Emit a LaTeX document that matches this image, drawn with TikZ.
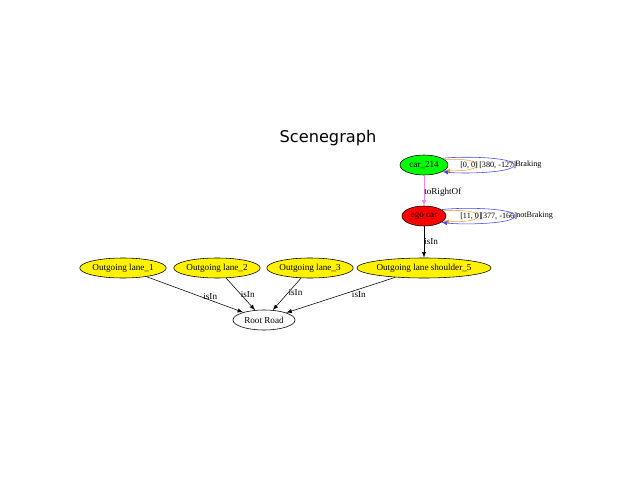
\documentclass[tikz,border=0pt]{standalone}
\usepackage{fontspec}
\setmainfont{Liberation Serif}
\newfontfamily\titlefont{DejaVu Sans}
\usetikzlibrary{shapes.geometric}

\definecolor{loopblue}{RGB}{70,70,240}
\definecolor{looporange}{RGB}{235,165,60}
\definecolor{relviolet}{RGB}{238,130,238}

\tikzset{
    obj/.style={ellipse, draw, inner sep=0pt, minimum height=0.5cm, font=\fontsize{6.5}{7}\selectfont},
    lane/.style={obj, fill=yellow, minimum width=2.075cm},
    rel/.style={-latex, thin},
    lbl/.style={font=\fontsize{6.5}{7}\selectfont, inner sep=0pt},
    looplbl/.style={font=\fontsize{5.8}{6}\selectfont, inner sep=0pt, anchor=west}
}

\begin{document}
\begin{tikzpicture}[x=0.025cm, y=-0.025cm]
    \useasboundingbox (0,0) rectangle (640,480);

    % title
    \node [font=\titlefont\fontsize{11.5}{13}\selectfont] (title) at (328,138) {Scenegraph};

    % cars
    \node [obj, fill=green, minimum width=1.2cm] (car) at (424,165) {car\_214};
    \node [obj, fill=red, minimum width=1.1cm] (ego) at (424,216) {ego car};

    % lanes
    \node [lane] (lane1) at (123,268) {Outgoing lane\_1};
    \node [lane] (lane2) at (217,268) {Outgoing lane\_2};
    \node [lane] (lane3) at (310,268) {Outgoing lane\_3};
    \node [lane, minimum width=3.075cm] (shoulder) at (424,268) {Outgoing lane shoulder\_5};

    % road
    \node [obj, minimum width=1.55cm] (root) at (264,320) {Root Road};

    % relations
    \draw [rel, relviolet] (car) -- (ego) node [lbl, black, pos=0.55, right] {toRightOf};
    \draw [rel] (ego) -- (shoulder) node [lbl, pos=0.5, right] {isIn};
    \draw [rel] (lane1) -- (root) node [lbl, pos=0.6, above right=-1pt] {isIn};
    \draw [rel] (lane2) -- (root) node [lbl, pos=0.5, right] {isIn};
    \draw [rel] (lane3) -- (root) node [lbl, pos=0.45, right] {isIn};
    \draw [rel] (shoulder) -- (root) node [lbl, pos=0.4, below right=0pt] {isIn};

    % self loops of car_214
    \draw [rel, looporange] (car.15) .. controls (455,159) and (477,159) .. (477,165)
        .. controls (477,171) and (455,171) .. (car.-15);
    \draw [rel, loopblue] (car.20) .. controls (462,156) and (514,157) .. (514,165)
        .. controls (514,173) and (462,174) .. (car.-20);
    \node [looplbl] (car0) at (460,165) {[0, 0]};
    \node [looplbl] (carpos) at (479,165) {[380, -127]};
    \node [looplbl] (carstate) at (515,165) {Braking};

    % self loops of ego car
    \draw [rel, looporange] (ego.15) .. controls (455,210) and (478,210) .. (478,216)
        .. controls (478,222) and (455,222) .. (ego.-15);
    \draw [rel, loopblue] (ego.20) .. controls (462,207) and (515,208) .. (515,216)
        .. controls (515,224) and (462,225) .. (ego.-20);
    \node [looplbl] (ego0) at (460,216) {[11, 0]};
    \node [looplbl] (egopos) at (480,216) {[377, -166]};
    \node [looplbl] (egostate) at (516,216) {notBraking};
\end{tikzpicture}
\end{document}
